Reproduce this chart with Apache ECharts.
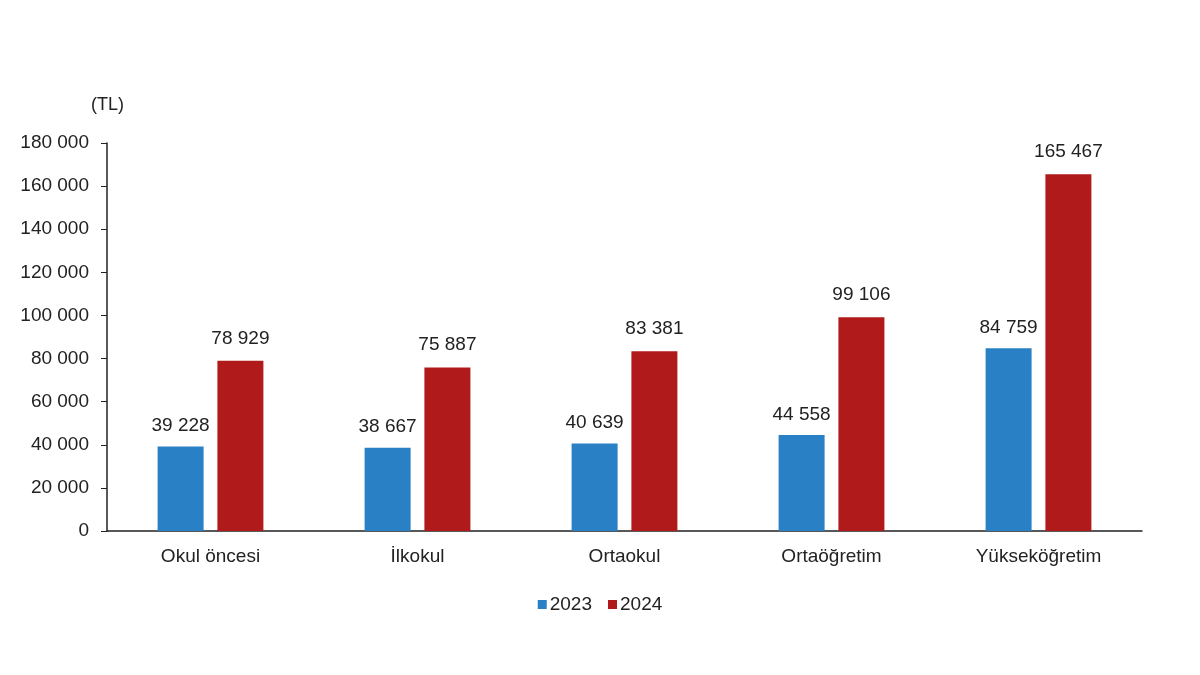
<!DOCTYPE html>
<html>
<head>
<meta charset="utf-8">
<script src="https://cdn.jsdelivr.net/npm/echarts@6/dist/echarts.min.js"></script>
<style>
  html, body { margin: 0; padding: 0; background: #fff; }
  #chart { width: 1200px; height: 675px; }
</style>
</head>
<body>
<div id="chart"></div>
<script>
// Eğitim düzeyine göre harcama (TL)
const categories = ['Okul öncesi', 'İlkokul', 'Ortaokul', 'Ortaöğretim', 'Yükseköğretim'];
const values2023 = [39228, 38667, 40639, 44558, 84759];
const values2024 = [78929, 75887, 83381, 99106, 165467];

// binlik ayırıcı boşluk
function fmt(v) {
    return String(v).replace(/\B(?=(\d{3})+(?!\d))/g, ' ');
}

const chart = echarts.init(document.getElementById('chart'));

const textColor = '#222';
const font = 'Liberation Sans, Arial, sans-serif';

const option = {
    animation: false,
    title: {
        text: '(TL)',
        left: 86,
        top: 91,
        textStyle: { fontSize: 18, fontWeight: 'normal', color: textColor, fontFamily: font }
    },
    legend: {
        data: ['2023', '2024'],
        left: 'center',
        top: 590,
        itemWidth: 9,
        itemHeight: 9,
        itemGap: 16,
        icon: 'rect',
        textStyle: { fontSize: 19, color: textColor, fontFamily: font, padding: [0, 0, 0, -2] }
    },
    grid: { left: 107, right: 58, top: 143, bottom: 144 },
    xAxis: {
        type: 'category',
        data: categories,
        axisLine: { lineStyle: { color: '#222', width: 1.5 } },
        axisTick: { show: false },
        axisLabel: { fontSize: 19, color: textColor, fontFamily: font, margin: 16 }
    },
    yAxis: {
        type: 'value',
        min: 0,
        max: 180000,
        interval: 20000,
        axisLine: { show: true, lineStyle: { color: '#222', width: 1.5 } },
        axisTick: { show: true, length: 6, lineStyle: { color: '#222' } },
        splitLine: { show: false },
        axisLabel: {
            fontSize: 19, color: textColor, fontFamily: font, margin: 18,
            formatter: v => fmt(v)
        }
    },
    series: [
        {
            name: '2023',
            type: 'bar',
            data: values2023,
            barWidth: 46,
            barGap: '30%',
            itemStyle: { color: '#2A80C4' },
            label: {
                show: true, position: 'top', distance: 11,
                fontSize: 19, color: textColor, fontFamily: font,
                formatter: p => fmt(p.value)
            }
        },
        {
            name: '2024',
            type: 'bar',
            data: values2024,
            barWidth: 46,
            itemStyle: { color: '#B11A1A' },
            label: {
                show: true, position: 'top', distance: 13,
                fontSize: 19, color: textColor, fontFamily: font,
                formatter: p => fmt(p.value)
            }
        }
    ]
};

chart.setOption(option);
</script>
</body>
</html>
